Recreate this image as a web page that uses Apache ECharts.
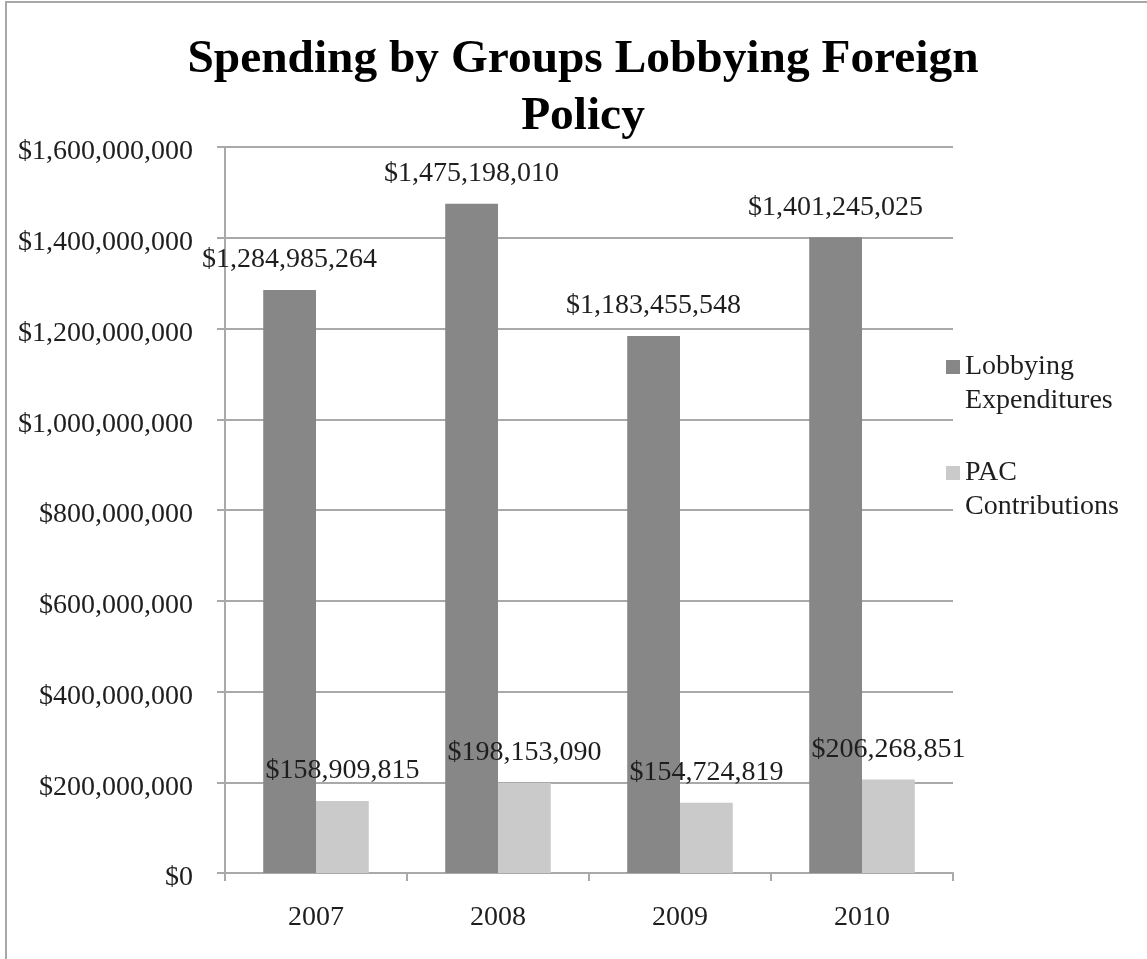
<!DOCTYPE html>
<html>
<head>
<meta charset="utf-8">
<title>Spending by Groups Lobbying Foreign Policy</title>
<script src="https://cdn.jsdelivr.net/npm/echarts@6/dist/echarts.min.js"></script>
<style>
  html, body { margin: 0; padding: 0; background: #ffffff; }
  #chart { width: 1147px; height: 959px; }
</style>
</head>
<body>
<div id="chart"></div>
<script>
// Yearly totals, in dollars
const years = ['2007', '2008', '2009', '2010'];
const lobbyingExpenditures = [1284985264, 1475198010, 1183455548, 1401245025];
const pacContributions = [158909815, 198153090, 154724819, 206268851];
const seriesNames = ['Lobbying\nExpenditures', 'PAC\nContributions'];

// Value axis ticks
const yTicks = [0, 200000000, 400000000, 600000000, 800000000, 1000000000, 1200000000, 1400000000, 1600000000];
const yTickLabels = ['$0', '$200,000,000', '$400,000,000', '$600,000,000', '$800,000,000',
  '$1,000,000,000', '$1,200,000,000', '$1,400,000,000', '$1,600,000,000'];

const FONT = '"Liberation Serif", "DejaVu Serif", serif';
const GRID_COLOR = '#a9a9a9';
const TEXT_COLOR = '#1e1e1e';
const LINE = 34;

function dollars(v) {
  return '$' + Number(v).toLocaleString('en-US');
}

const chart = echarts.init(document.getElementById('chart'), null, { renderer: 'canvas' });

chart.setOption({
  backgroundColor: '#ffffff',
  animation: false,
  title: {
    text: 'Spending by Groups Lobbying Foreign\nPolicy',
    left: 583,
    top: 31,
    textAlign: 'center',
    padding: 0,
    textStyle: {
      fontFamily: FONT,
      fontWeight: 'bold',
      fontSize: 47.4,
      lineHeight: 57,
      color: '#000000'
    }
  },
  legend: {
    orient: 'vertical',
    left: 941,
    top: 311,
    icon: 'rect',
    itemWidth: 14,
    itemHeight: 14,
    itemGap: 4,
    selectedMode: false,
    // a leading blank line keeps the swatch level with the first line of each name
    formatter: function (name) { return '\n' + name; },
    textStyle: {
      fontFamily: FONT,
      fontSize: 28,
      lineHeight: LINE,
      color: TEXT_COLOR
    },
    data: seriesNames
  },
  grid: {
    left: 225,
    right: 194,
    top: 147,
    bottom: 86,
    containLabel: false
  },
  xAxis: {
    type: 'category',
    data: years,
    axisLine: { show: true, lineStyle: { color: GRID_COLOR, width: 2 } },
    axisTick: { show: true, length: 8, lineStyle: { color: GRID_COLOR, width: 2 } },
    axisLabel: {
      margin: 31,
      fontFamily: FONT,
      fontSize: 28,
      color: TEXT_COLOR
    },
    splitLine: { show: false }
  },
  yAxis: {
    type: 'value',
    min: yTicks[0],
    max: yTicks[yTicks.length - 1],
    interval: yTicks[1] - yTicks[0],
    axisLine: { show: true, lineStyle: { color: GRID_COLOR, width: 2 } },
    axisTick: { show: true, length: 8, lineStyle: { color: GRID_COLOR, width: 2 } },
    axisLabel: {
      margin: 32,
      verticalAlign: 'top',
      lineHeight: 10,
      fontFamily: FONT,
      fontSize: 28,
      color: TEXT_COLOR,
      formatter: function (v) {
        const i = yTicks.indexOf(v);
        return i >= 0 ? yTickLabels[i] : dollars(v);
      }
    },
    splitLine: { show: true, lineStyle: { color: GRID_COLOR, width: 2 } }
  },
  series: [
    {
      name: seriesNames[0],
      type: 'bar',
      data: lobbyingExpenditures,
      barGap: '0%',
      barCategoryGap: '42%',
      itemStyle: { color: '#878787' },
      label: {
        show: true,
        position: 'top',
        distance: 16,
        fontFamily: FONT,
        fontSize: 28,
        color: TEXT_COLOR,
        formatter: function (p) { return dollars(p.value); }
      }
    },
    {
      name: seriesNames[1],
      type: 'bar',
      data: pacContributions,
      barGap: '0%',
      barCategoryGap: '42%',
      itemStyle: { color: '#cacaca' },
      label: {
        show: true,
        position: 'top',
        distance: 16,
        fontFamily: FONT,
        fontSize: 28,
        color: TEXT_COLOR,
        formatter: function (p) { return dollars(p.value); }
      }
    }
  ],
  graphic: [
    // frame edges along the left and top of the chart
    { type: 'line', silent: true, shape: { x1: 6, y1: 2, x2: 6, y2: 959 }, style: { stroke: '#a8a8a8', lineWidth: 2 } },
    { type: 'line', silent: true, shape: { x1: 5, y1: 2, x2: 1147, y2: 2 }, style: { stroke: '#a8a8a8', lineWidth: 2 } }
  ]
});
</script>
</body>
</html>
